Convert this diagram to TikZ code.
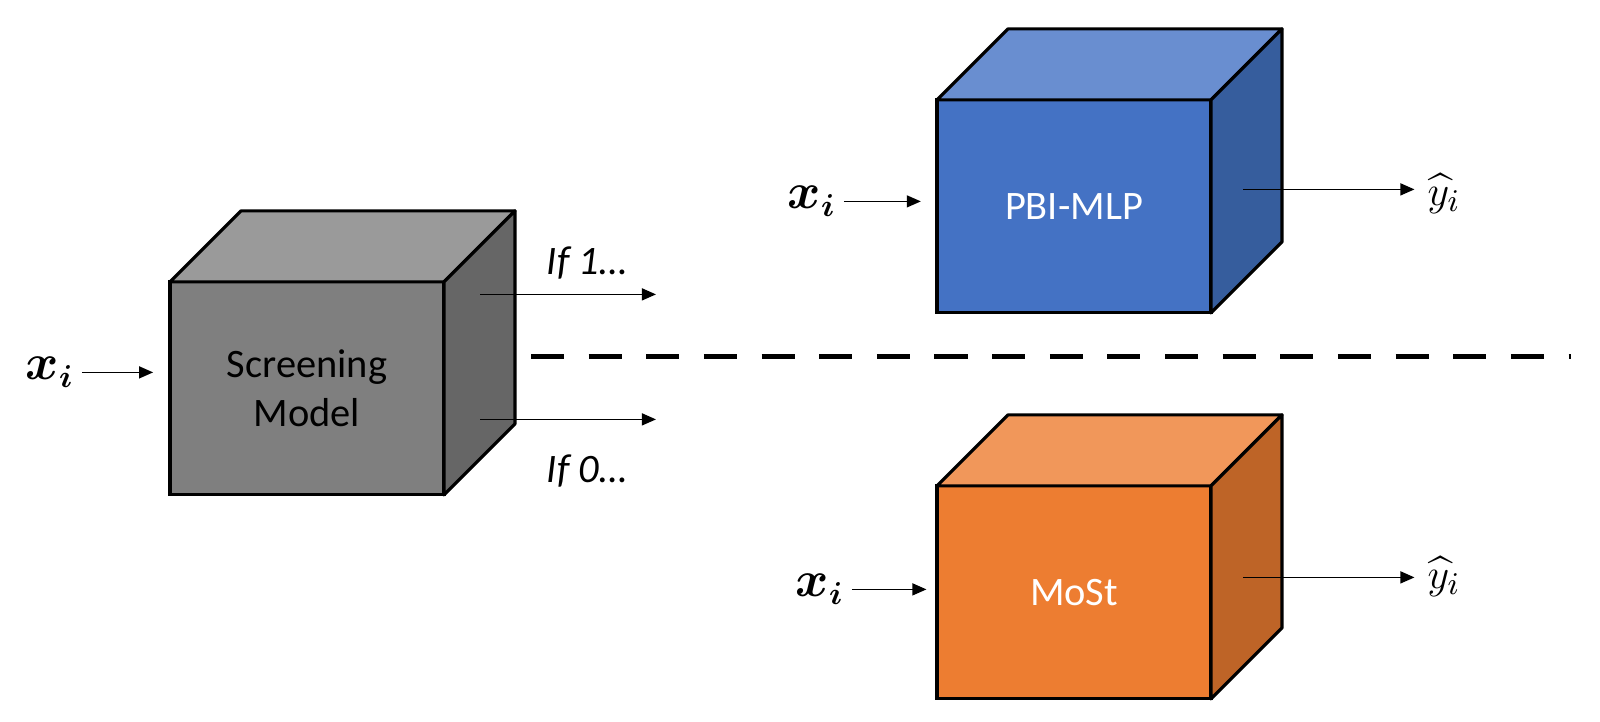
\documentclass[tikz,border=0pt]{standalone}
\usepackage{amsmath,amssymb}
\usepackage{fontspec}
\setmainfont{Carlito}
\usepackage{tikz}
\usetikzlibrary{arrows.meta,positioning,calc}
\definecolor{scrFront}{HTML}{7F7F7F}
\definecolor{scrTop}{HTML}{9A9A9A}
\definecolor{scrSide}{HTML}{666666}
\definecolor{pbiFront}{HTML}{4472C4}
\definecolor{pbiTop}{HTML}{698ED0}
\definecolor{pbiSide}{HTML}{365D9D}
\definecolor{mostFront}{HTML}{ED7D31}
\definecolor{mostTop}{HTML}{F1975A}
\definecolor{mostSide}{HTML}{BE6427}
\newcommand{\xin}{$\boldsymbol{x}_{\boldsymbol{i}}$}
\newcommand{\yhat}{$\widehat{y}_i$}
\newcommand{\dep}{0.71}

\begin{document}
\begin{tikzpicture}[
  every node/.style={font=\fontsize{11.5}{14}\selectfont},
  front/.style={draw, line width=0.9pt, outer sep=0pt, minimum width=2.74cm,
                minimum height=2.13cm, align=center, inner sep=0pt},
  face/.style={draw, line width=0.9pt, line join=round},
  ar/.style={-{Triangle[length=4pt, width=3.4pt]}, line width=0.45pt},
  inp/.style={font=\fontsize{13.5}{15}\selectfont, inner sep=2pt},
  outp/.style={font=\fontsize{12.5}{15}\selectfont, inner sep=1pt},
  cond/.style={font=\fontsize{11.5}{14}\selectfont\itshape},
  sep/.style={line width=1.5pt, dash pattern=on 9.4pt off 7pt}]
  \useasboundingbox (0,0) rectangle (16,7.214);
  % the three models, front faces
  \node[front, fill=scrFront] (scr) at (3.07,3.33) {Screening\\Model};
  \node[front, fill=pbiFront, text=white] (pbi) at (10.74,5.15) {PBI-MLP};
  \node[front, fill=mostFront, text=white] (most) at (10.74,1.29) {MoSt};
  % top and side faces
  \foreach \mdl/\tp/\sd in {scr/scrTop/scrSide, pbi/pbiTop/pbiSide,
                            most/mostTop/mostSide}{
    \draw[face, fill=\tp] (\mdl.north west) -- ++(\dep,\dep)
      -- ($(\mdl.north east)+(\dep,\dep)$) -- (\mdl.north east) -- cycle;
    \draw[face, fill=\sd] (\mdl.north east) -- ++(\dep,\dep)
      -- ($(\mdl.south east)+(\dep,\dep)$) -- (\mdl.south east) -- cycle;
  }
  % inputs
  \node[inp] (xs) at (0.50,3.49) {\xin};
  \node[inp] (xp) at (8.12,5.20) {\xin};
  \node[inp] (xm) at (8.20,1.32) {\xin};
  \draw[ar, shorten >=4.8pt] (xs) -- (xs -| scr.west);
  \draw[ar, shorten >=4.6pt] (xp) -- (xp -| pbi.west);
  \draw[ar, shorten >=3pt] (xm) -- (xm -| most.west);
  % screening outcome
  \coordinate (s1) at (4.80,4.27);
  \coordinate (e1) at (6.56,4.27);
  \coordinate (s0) at (4.80,3.02);
  \coordinate (e0) at (6.56,3.02);
  \draw[ar] (s1) -- (e1);
  \draw[ar] (s0) -- (e0);
  \node[cond] (if1) at (5.87,4.58) {If 1…};
  \node[cond] (if0) at (5.87,2.50) {If 0…};
  % split
  \coordinate (dl) at (5.31,3.65);
  \coordinate (dr) at (15.71,3.65);
  \draw[sep] (dl) -- (dr);
  % predictions
  \coordinate (pbiout) at (12.43,5.32);
  \coordinate (mostout) at (12.43,1.44);
  \node[outp] (yp) at (14.44,5.28) {\yhat};
  \node[outp] (ym) at (14.44,1.45) {\yhat};
  \draw[ar, shorten >=2.5pt] (pbiout) -- (pbiout -| yp.west);
  \draw[ar, shorten >=2.5pt] (mostout) -- (mostout -| ym.west);
\end{tikzpicture}
\end{document}
